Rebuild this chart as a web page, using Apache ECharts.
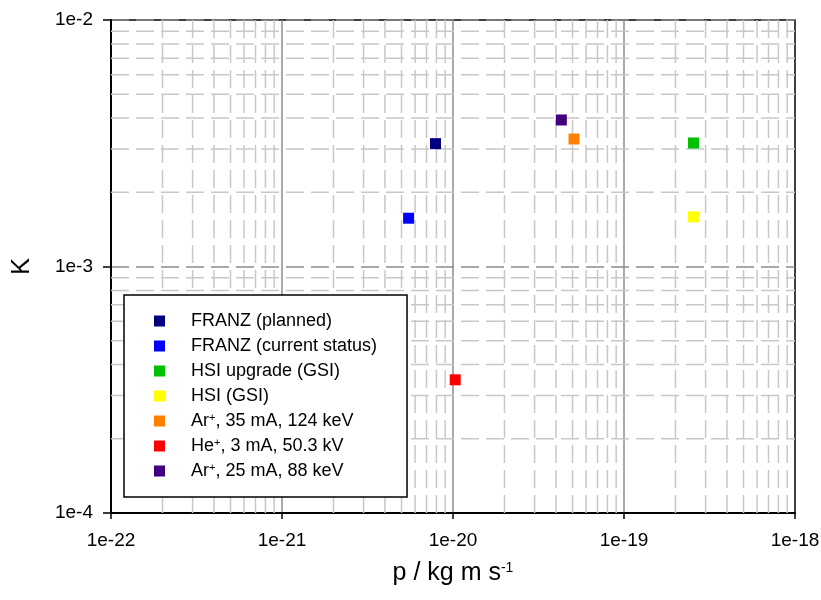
<!DOCTYPE html>
<html>
<head>
<meta charset="utf-8">
<script src="https://cdn.jsdelivr.net/npm/echarts@6/dist/echarts.min.js"></script>
<style>
  html, body { margin: 0; padding: 0; background: #fff; }
  #chart { width: 821px; height: 600px; }
</style>
</head>
<body>
<div id="chart"></div>
<script>
// values (p in kg m/s, K dimensionless)
var names = ['FRANZ (planned)', 'FRANZ (current status)', 'HSI upgrade (GSI)', 'HSI (GSI)',
             'Ar+, 35 mA, 124 keV', 'He+, 3 mA, 50.3 kV', 'Ar+, 25 mA, 88 keV'];
var colors = ['#000080', '#0000ff', '#00c000', '#ffff00', '#ff8000', '#ff0000', '#400080'];
var p_vals = [7.9e-21, 5.5e-21, 2.55e-19, 2.55e-19, 5.1e-20, 1.03e-20, 4.3e-20];
var k_vals = [3.15e-3, 1.57e-3, 3.17e-3, 1.59e-3, 3.29e-3, 3.47e-4, 3.93e-3];

var x_decades = [-22, -21, -20, -19, -18];
var y_decades = [-4, -3, -2];
var minor_mult = [2, 3, 4, 5, 6, 7, 8, 9];

// echarts rounds very small log ticks to 0, so x is plotted in units of 1e-22
var X_UNIT = 1e-22;
var X_EXP0 = -22;

var font = 'Liberation Sans, Arial, sans-serif';

var x_min = Math.pow(10, x_decades[0]) / X_UNIT;
var x_max = Math.pow(10, x_decades[x_decades.length - 1]) / X_UNIT;
var y_min = Math.pow(10, y_decades[0]);
var y_max = Math.pow(10, y_decades[y_decades.length - 1]);

function minor_values(decades, unit) {
    var out = [];
    for (var i = 0; i < decades.length - 1; i++) {
        for (var m of minor_mult) {
            out.push(m * Math.pow(10, decades[i]) / unit);
        }
    }
    return out;
}

var minorStyle = { stroke: '#c8c8c8', lineWidth: 1.5, lineDash: [18, 7] };

function vline(params, api) {
    var cs = params.coordSys;
    var px = api.coord([api.value(0), y_min])[0];
    return { type: 'line', shape: { x1: px, y1: cs.y, x2: px, y2: cs.y + cs.height },
             style: minorStyle, silent: true };
}
function hline(params, api) {
    var cs = params.coordSys;
    var py = api.coord([x_min, api.value(1)])[1];
    return { type: 'line', shape: { x1: cs.x, y1: py, x2: cs.x + cs.width, y2: py },
             style: minorStyle, silent: true };
}

var series = [
    { type: 'custom', name: 'vgrid', z: 1, silent: true, renderItem: vline,
      data: minor_values(x_decades, X_UNIT).map(function (v) { return [v, y_min]; }) },
    { type: 'custom', name: 'hgrid', z: 1, silent: true, renderItem: hline,
      data: minor_values(y_decades, 1).map(function (v) { return [x_min, v]; }) }
];
names.forEach(function (n, i) {
    series.push({
        name: n,
        type: 'scatter',
        symbol: 'rect',
        symbolSize: 11,
        z: 3,
        itemStyle: { color: colors[i], opacity: 1 },
        data: [[p_vals[i] / X_UNIT, k_vals[i]]]
    });
});

var chart = echarts.init(document.getElementById('chart'));
chart.setOption({
    animation: false,
    grid: {
        left: 111, right: 26, top: 20, bottom: 87,
        show: true, borderColor: '#000', borderWidth: 1.5,
        outerBoundsMode: 'none'
    },
    legend: {
        data: names,
        orient: 'vertical',
        left: 124,
        top: 295,
        icon: 'rect',
        itemWidth: 11,
        itemHeight: 11,
        itemGap: 7,
        padding: [17, 30, 17, 30],
        backgroundColor: '#fff',
        borderColor: '#000',
        borderWidth: 1.5,
        selectedMode: false,
        formatter: function (name) {
            return name.replace('+', '{sup|+}');
        },
        textStyle: {
            fontFamily: font,
            fontSize: 18,
            color: '#000',
            padding: [0, 0, 0, 21],
            rich: {
                sup: { fontFamily: font, fontSize: 11, color: '#000', verticalAlign: 'top' }
            }
        }
    },
    xAxis: {
        type: 'log',
        logBase: 10,
        min: x_min,
        max: x_max,
        interval: 1,
        name: 'p / kg m s{sup|-1}',
        nameLocation: 'middle',
        nameGap: 48,
        nameTextStyle: {
            fontFamily: font, fontSize: 25, color: '#000',
            rich: { sup: { fontFamily: font, fontSize: 14, color: '#000', verticalAlign: 'top' } }
        },
        axisLine: { show: true, lineStyle: { color: '#000', width: 2 } },
        axisTick: { show: true, inside: false, length: 6, lineStyle: { color: '#000', width: 1.5 } },
        axisLabel: {
            margin: 18,
            fontFamily: font, fontSize: 19, color: '#000',
            formatter: function (v) {
                return '1e' + (Math.round(Math.log10(v)) + X_EXP0);
            }
        },
        splitLine: { show: true, showMinLine: false, showMaxLine: false,
                     lineStyle: { color: '#8c8c8c', width: 1.5, type: 'solid' } },
        minorTick: { show: false }
    },
    yAxis: {
        type: 'log',
        logBase: 10,
        min: y_min,
        max: y_max,
        interval: 1,
        name: 'K',
        nameLocation: 'middle',
        nameRotate: 90,
        nameGap: 76,
        nameTextStyle: { fontFamily: font, fontSize: 25, color: '#000' },
        axisLine: { show: true, lineStyle: { color: '#000', width: 2 } },
        axisTick: { show: true, inside: false, length: 8, lineStyle: { color: '#000', width: 1.5 } },
        axisLabel: {
            margin: 18,
            fontFamily: font, fontSize: 19, color: '#000',
            formatter: function (v) {
                return '1e' + Math.round(Math.log10(v));
            }
        },
        splitLine: { show: true, showMinLine: false, showMaxLine: false,
                     lineStyle: { color: '#8c8c8c', width: 1.5, type: [18, 7] } }
    },
    series: series
});
</script>
</body>
</html>
